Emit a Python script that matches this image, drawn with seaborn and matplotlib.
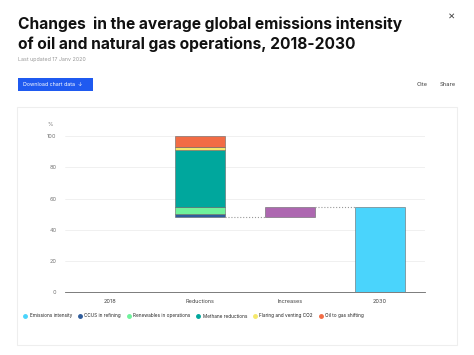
import numpy as np
import matplotlib.pyplot as plt
import seaborn as sns
from matplotlib.patches import Rectangle
from matplotlib.lines import Line2D

# Data (%, 2018 = 100)
categories = ['2018', 'Reductions', 'Increases', '2030']
reduction_base = 48.0
ccus = 1.8
renewables = 4.5
methane = 36.7
flaring = 2.1
oil_to_gas = 6.9
increases = 6.3
intensity_2030 = 54.3

legend_labels = ['Emissions intensity', 'CCUS in refining', 'Renewables in operations',
                 'Methane reductions', 'Flaring and venting CO2', 'Oil to gas shifting']
colors = ['#4ad4fc', '#2f5d9c', '#6ff29b', '#00a79d', '#f5e86a', '#f26c45']
inc_color = '#ad67b0'

sns.set_style('white')
plt.rcParams['font.family'] = ['Inter', 'DejaVu Sans']

W, H = 474, 355
fig = plt.figure(figsize=(W / 100, H / 100), dpi=100)

def fx(px):
    return px / W

def fy(py):
    return 1 - py / H

# header
fig.text(fx(18), fy(24), 'Changes  in the average global emissions intensity', fontsize=11.2,
         fontweight='bold', va='center', color='#111111')
fig.text(fx(18), fy(44), 'of oil and natural gas operations, 2018-2030', fontsize=11.2,
         fontweight='bold', va='center', color='#111111')
fig.text(fx(18), fy(60), 'Last updated 17 Janv 2020', fontsize=3.8, va='center', color='#999999')
fig.patches.append(Rectangle((fx(18), fy(91)), fx(75), 13 / H, transform=fig.transFigure,
                             facecolor='#1f5af0', edgecolor='none'))
fig.text(fx(23), fy(84.5), 'Download chart data  \u2193', fontsize=3.8, va='center', color='white')
fig.text(fx(417), fy(85), 'Cite', fontsize=4.2, va='center', color='#444444')
fig.text(fx(440), fy(85), 'Share', fontsize=4.2, va='center', color='#444444')
fig.text(fx(452), fy(17), '\u00d7', fontsize=8, va='center', ha='center', color='#444444')

# card
fig.patches.append(Rectangle((fx(17), fy(345)), fx(440), 238 / H, transform=fig.transFigure,
                             facecolor='none', edgecolor='#eeeeee', linewidth=0.8))

ax = fig.add_axes([fx(65), fy(292), fx(360), 162 / H])
x = np.arange(len(categories))
w = 0.56
ec = dict(edgecolor='#666666', linewidth=0.4)

# reductions stack
bottom = reduction_base
for val, col in zip([ccus, renewables, methane, flaring, oil_to_gas], colors[1:]):
    ax.bar(x[1], val, w, bottom=bottom, color=col, **ec)
    bottom += val
ax.bar(x[2], increases, w, bottom=reduction_base, color=inc_color, **ec)
ax.bar(x[3], intensity_2030, w, color=colors[0], **ec)

# connectors
ax.plot([x[1] + w / 2, x[2] - w / 2], [reduction_base] * 2, ls=':', color='#999999', lw=0.8)
ax.plot([x[2] + w / 2, x[3] - w / 2], [reduction_base + increases] * 2, ls=':', color='#999999', lw=0.8)

ax.set_xlim(-0.5, 3.5)
ax.set_ylim(0, 104)
ax.set_yticks([0, 20, 40, 60, 80, 100])
ax.yaxis.grid(True, color='#eeeeee', linewidth=0.6)
ax.set_axisbelow(True)
ax.set_xticks(x)
ax.set_xticklabels(categories)
ax.set_xticks(np.arange(-0.5, 4, 1), minor=True)
ax.tick_params(axis='x', which='major', length=0, labelsize=4, labelcolor='#444444', pad=5)
ax.tick_params(axis='x', which='minor', length=3, width=0.5, color='#666666', direction='inout')
ax.tick_params(axis='y', length=0, labelsize=4, labelcolor='#777777', pad=6)
sns.despine(ax=ax, left=True)
ax.spines['bottom'].set_color('#666666')
ax.spines['bottom'].set_linewidth(0.6)
fig.text(fx(47), fy(124), '%', fontsize=4, color='#777777', va='center')

# legend
handles = [Line2D([], [], marker='o', ls='none', markersize=2.5, markerfacecolor=c,
                  markeredgecolor=c) for c in colors]
fig.legend(handles, legend_labels, loc='center left', bbox_to_anchor=(fx(22), fy(316)),
           ncol=6, frameon=False, fontsize=3.4, handletextpad=0.6, columnspacing=1.4,
           handlelength=0.6, borderaxespad=0)

fig.savefig('out.png', dpi=100)
